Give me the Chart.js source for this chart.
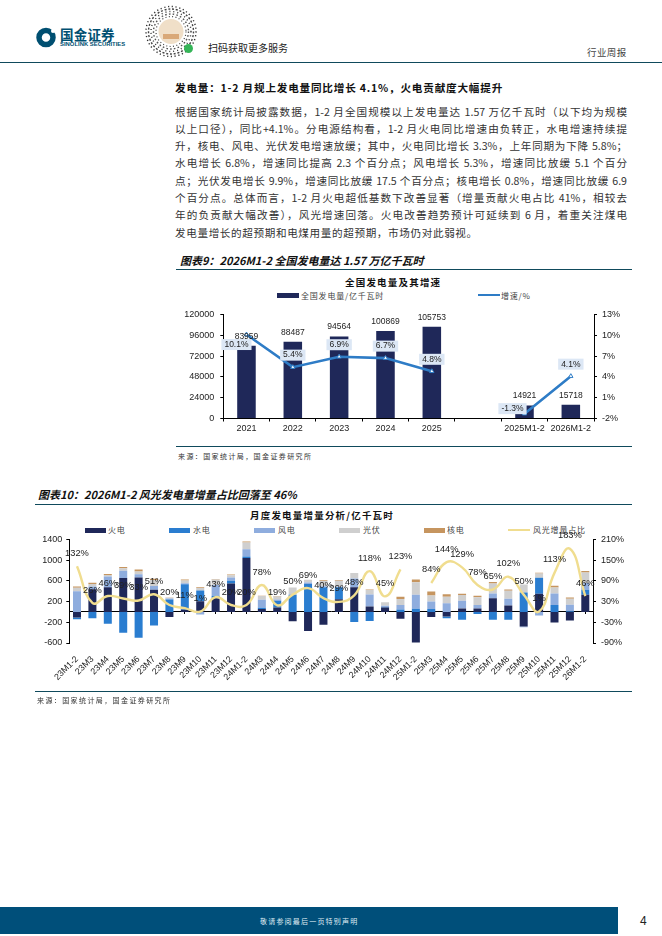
<!DOCTYPE html>
<html lang="zh-CN">
<head>
<meta charset="utf-8">
<title>行业周报</title>
<script src="https://cdn.jsdelivr.net/npm/chart.js@4"></script>
<style>
html, body { margin: 0; padding: 0; background: #fff; }
body { position: relative; width: 662px; height: 936px; overflow: hidden; font-family: "Noto Sans CJK SC", sans-serif; color: #222; }
.abs { position: absolute; white-space: nowrap; }
.rule { position: absolute; height: 1.4px; background: #0f4a5c; }
.line { position: absolute; left: 175px; width: 452px; font-size: 10.6px; line-height: 14px; text-align: justify; text-align-last: justify; color: #333; white-space: nowrap; }
.fig { font-size: 11px; font-weight: 700; font-style: italic; color: #111; }
.source { font-size: 7px; color: #333; letter-spacing: 1.4px; }
.ctitle { font-size: 9.5px; font-weight: 700; color: #111; letter-spacing: 1.2px; }
.key { position: absolute; font-size: 8px; line-height: 10px; white-space: nowrap; color: #444; letter-spacing: 0.8px; }
.swatch { position: absolute; height: 5px; }
canvas { position: absolute; }
</style>
</head>
<body>

<svg class="abs" style="left:36px;top:27px" width="20" height="21" viewBox="0 0 20 21">
  <circle cx="10" cy="10.5" r="7" fill="none" stroke="#004f71" stroke-width="5.5"/>
  <circle cx="17" cy="4" r="2" fill="#fff"/>
</svg>
<div class="abs" style="left:60px;top:26px;font-size:13.5px;line-height:17px;font-weight:700;color:#004f71;letter-spacing:0.2px">国金证券</div>
<div class="abs" style="left:60px;top:41px;font-family:'Liberation Sans';font-size:5.9px;line-height:7px;font-weight:700;color:#004f71">SINOLINK SECURITIES</div>

<svg class="abs" style="left:145px;top:5px" width="54" height="54" viewBox="0 0 54 54">
  <circle cx="26" cy="26.500" r="25" fill="none" stroke="#333" stroke-width="1.4" stroke-dasharray="1.2 2.6"/>
  <circle cx="26" cy="26.500" r="22.500" fill="none" stroke="#444" stroke-width="1.4" stroke-dasharray="2 1.8"/>
  <circle cx="26" cy="26.500" r="20" fill="none" stroke="#333" stroke-width="1.4" stroke-dasharray="1 3"/>
  <circle cx="26" cy="26.500" r="17.500" fill="none" stroke="#555" stroke-width="1.4" stroke-dasharray="1.6 2.2"/>
  <circle cx="26" cy="26.500" r="15" fill="none" stroke="#444" stroke-width="1.2" stroke-dasharray="1 2.4"/>
  <circle cx="26" cy="26.500" r="12.500" fill="#f0dfc8"/>
  <rect x="18" y="29" width="16" height="5" fill="#d9a878"/>
  <circle cx="43.500" cy="43.500" r="4.500" fill="#35b558"/>
</svg>
<div class="abs" style="left:208px;top:41px;font-size:10px;line-height:14px;color:#222">扫码获取更多服务</div>
<div class="abs" style="left:587px;top:46px;font-size:9.500px;line-height:13px;color:#444;letter-spacing:0.4px">行业周报</div>
<div class="rule" style="left:0;top:61.500px;width:662px"></div>

<div class="abs" style="left:175px;top:81px;font-size:10.600px;line-height:14px;font-weight:700;color:#111;letter-spacing:0.8px">发电量：1-2 月规上发电量同比增长 4.1%，火电贡献度大幅提升</div>
<div class="line" style="top:105px">根据国家统计局披露数据，1-2 月全国规模以上发电量达 1.57 万亿千瓦时（以下均为规模</div>
<div class="line" style="top:122px">以上口径），同比+4.1%。分电源结构看，1-2 月火电同比增速由负转正，水电增速持续提</div>
<div class="line" style="top:139px">升，核电、风电、光伏发电增速放缓；其中，火电同比增长 3.3%，上年同期为下降 5.8%；</div>
<div class="line" style="top:156px">水电增长 6.8%，增速同比提高 2.3 个百分点；风电增长 5.3%，增速同比放缓 5.1 个百分</div>
<div class="line" style="top:173.500px">点；光伏发电增长 9.9%，增速同比放缓 17.5 个百分点；核电增长 0.8%，增速同比放缓 6.9</div>
<div class="line" style="top:190.500px">个百分点。总体而言，1-2 月火电超低基数下改善显著（增量贡献火电占比 41%，相较去</div>
<div class="line" style="top:208px">年的负贡献大幅改善），风光增速回落。火电改善趋势预计可延续到 6 月，着重关注煤电</div>
<div class="abs" style="left:175px;top:225.500px;font-size:10.600px;line-height:14px;color:#333;letter-spacing:0.62px">发电量增长的超预期和电煤用量的超预期，市场仍对此弱视。</div>

<div class="abs fig" style="left:180px;top:252px;line-height:16px">图表9：2026M1-2 全国发电量达 1.57 万亿千瓦时</div>
<div class="rule" style="left:176px;top:269px;width:456px"></div>
<div class="abs ctitle" style="left:345px;top:275px;line-height:14px">全国发电量及其增速</div>
<div class="swatch" style="left:277px;top:293px;width:22px;background:#1f2859"></div>
<div class="key" style="left:301px;top:290.500px">全国发电量/亿千瓦时</div>
<div class="swatch" style="left:478px;top:294px;width:22px;height:2.400px;background:#2e7cc6"></div>
<div class="key" style="left:501px;top:290.500px">增速/%</div>
<canvas id="annualChart"></canvas>
<div class="rule" style="left:176px;top:446px;width:456px"></div>
<div class="abs source" style="left:178px;top:451px;line-height:10px">来源：国家统计局，国金证券研究所</div>

<div class="abs fig" style="left:38px;top:486px;line-height:16px">图表10：2026M1-2 风光发电量增量占比回落至 46%</div>
<div class="rule" style="left:35px;top:504px;width:597px"></div>
<div class="abs ctitle" style="left:250px;top:508px;line-height:14px">月度发电量增量分析/亿千瓦时</div>
<div class="swatch" style="left:85px;top:527.500px;width:21px;background:#1f2859"></div>
<div class="key" style="left:108px;top:525px">火电</div>
<div class="swatch" style="left:169px;top:527.500px;width:21px;background:#2a7dd0"></div>
<div class="key" style="left:193px;top:525px">水电</div>
<div class="swatch" style="left:254px;top:527.500px;width:21px;background:#8fadde"></div>
<div class="key" style="left:278px;top:525px">风电</div>
<div class="swatch" style="left:339px;top:527.500px;width:21px;background:#cfcfcf"></div>
<div class="key" style="left:363px;top:525px">光伏</div>
<div class="swatch" style="left:424px;top:527.500px;width:21px;background:#c6955f"></div>
<div class="key" style="left:447px;top:525px">核电</div>
<div class="swatch" style="left:508px;top:529px;width:22px;height:2.400px;background:#f0dd8f"></div>
<div class="key" style="left:533px;top:525px">风光增量占比</div>
<canvas id="monthlyChart"></canvas>
<div class="rule" style="left:35px;top:691px;width:597px"></div>
<div class="abs source" style="left:37px;top:695px;line-height:10px">来源：国家统计局，国金证券研究所</div>

<div class="abs" style="left:0;top:907px;width:618px;height:27px;background:#004f7a"></div>
<div class="abs" style="left:260px;top:916px;font-size:7px;line-height:10px;color:#dfeaf2;letter-spacing:1.2px">敬请参阅最后一页特别声明</div>
<div class="abs" style="left:640px;top:913px;font-family:'Liberation Sans';font-size:12px;line-height:16px;color:#222">4</div>

<script>
// 图表9 全国发电量及其增速
const annualCategories = ['2021', '2022', '2023', '2024', '2025', '', '2025M1-2', '2026M1-2'];
const annualGeneration = [83959, 88487, 94564, 100869, 105753, null, 14921, 15718];
const annualGrowth = [10.1, 5.4, 6.9, 6.7, 4.8, null, -1.3, 4.1];
const annualLeftTicks = [0, 24000, 48000, 72000, 96000, 120000];
const annualRightTicks = [-2, 1, 4, 7, 10, 13];

// 图表10 月度发电量增量
const monthlyCategories = [
    '23M1-2', '23M3', '23M4', '23M5', '23M6', '23M7', '23M8', '23M9', '23M10', '23M11', '23M12',
    '24M1-2', '24M3', '24M4', '24M5', '24M6', '24M7', '24M8', '24M9', '24M10', '24M11', '24M12',
    '25M1-2', '25M3', '25M4', '25M5', '25M6', '25M7', '25M8', '25M9', '25M10', '25M11', '25M12',
    '26M1-2'
];
const thermalPower = [
    -110, 440, 475, 655, 665, 430, -100, 40, 205, 265, 550,
    1040, 55, 85, -180, -370, -250, 245, 475, 105, 85, -130,
    -590, -100, -90, 65, 65, 265, 125, -280, 350, -205, -165,
    330
];
const hydroPower = [
    -30, -120, -230, -400, -500, -260, 240, 495, 210, 45, 50,
    30, 25, 130, 325, 540, 475, 230, -195, -175, 10, 45,
    60, 55, -30, -150, -40, -150, -150, 375, 310, 135, 15,
    100
];
const windPower = [
    400, 50, 210, 140, 60, 70, 20, 20, -50, 210, 65,
    140, 155, 25, 15, 30, 20, 10, 170, 230, 25, 90,
    270, 145, 165, 150, 70, 90, 130, -15, -70, 220, 125,
    130
];
const solarPower = [
    65, 50, 30, 50, 55, 115, 15, 50, 45, 105, 45,
    130, 70, 60, 130, 50, 100, 115, 105, 90, 65, 115,
    245, 115, 130, 110, 150, 195, 155, 155, 80, 115, 115,
    200
];
const nuclearPower = [
    25, 25, 15, 20, 40, 25, 5, 20, 15, 10, 10,
    20, 5, 5, 0, 0, 15, 15, 0, 10, 0, 45,
    50, 80, 45, 25, 25, 30, 25, 0, 15, 35, 25,
    30
];
const windSolarShare = [
    132, 26, 46, 39, 33, 51, 20, 11, 1, 43, 20,
    20, 78, 19, 50, 69, 40, 29, 48, 118, 45, 123,
    null, 84, 144, 129, 78, 65, 102, 50, 1, 113, 183,
    46
];
const monthlyLeftTicks = [-600, -200, 200, 600, 1000, 1400];
const monthlyRightTicks = [-90, -30, 30, 90, 150, 210];

const TICK_FONT = 'Liberation Sans';
const TEXT_COLOR = '#222';

// 没有 datalabels 插件，这里自己画数据标签
const valueLabels = {
    id: 'valueLabels',
    afterDatasetsDraw(chart, args, options) {
        const ctx = chart.ctx;
        options.sets.forEach(set => {
            const values = chart.data.datasets[set.dataset].data;
            chart.getDatasetMeta(set.dataset).data.forEach((el, i) => {
                if (values[i] === null) return;
                const shift = (set.shifts && set.shifts[i]) || [0, 0];
                const x = el.x + shift[0];
                const y = el.y - set.offset + shift[1];
                const text = values[i] + (set.suffix || '');
                ctx.save();
                ctx.font = `${set.size}px "${TICK_FONT}"`;
                ctx.textAlign = 'center';
                ctx.textBaseline = 'middle';
                if (set.background) {
                    const w = ctx.measureText(text).width + 6;
                    ctx.fillStyle = set.background;
                    ctx.fillRect(x - w / 2, y - 5.5, w, 11);
                }
                ctx.fillStyle = TEXT_COLOR;
                ctx.fillText(text, x, y);
                ctx.restore();
            });
        });
    }
};

function placeCanvas(id, left, top, width, height) {
    const canvas = document.getElementById(id);
    canvas.style.left = left + 'px';
    canvas.style.top = top + 'px';
    canvas.style.width = width + 'px';
    canvas.style.height = height + 'px';
    canvas.width = width;
    canvas.height = height;
    return canvas;
}

function valueAxis(position, ticks, axisWidth, size, suffix, padding) {
    return {
        position,
        min: ticks[0],
        max: ticks[ticks.length - 1],
        afterBuildTicks: scale => { scale.ticks = ticks.map(value => ({ value })); },
        afterFit: scale => { scale.width = axisWidth; },
        border: { color: '#000', width: 1 },
        grid: { drawOnChartArea: false, color: '#000', tickLength: 3 },
        ticks: {
            padding,
            color: TEXT_COLOR,
            font: { family: TICK_FONT, size },
            callback: value => value + suffix
        }
    };
}

function initAnnualChart() {
    new Chart(placeCanvas('annualChart', 176, 303, 456, 142), {
        data: {
            labels: annualCategories,
            datasets: [
                {
                    type: 'bar',
                    label: '全国发电量/亿千瓦时',
                    data: annualGeneration,
                    backgroundColor: '#1f2859',
                    barPercentage: 0.4,
                    categoryPercentage: 1,
                    yAxisID: 'y',
                    order: 2
                },
                {
                    type: 'line',
                    label: '增速/%',
                    data: annualGrowth,
                    borderColor: '#2e7cc6',
                    borderWidth: 2.6,
                    pointStyle: 'triangle',
                    pointRadius: 2.5,
                    pointBorderWidth: 1,
                    pointBackgroundColor: '#fff',
                    pointBorderColor: '#2e7cc6',
                    spanGaps: false,
                    tension: 0,
                    yAxisID: 'y2',
                    order: 1
                }
            ]
        },
        options: {
            responsive: false,
            animation: false,
            devicePixelRatio: 1,
            layout: { padding: { top: 10 } },
            scales: {
                x: {
                    afterFit: scale => { scale.height = 26.5; },
                    border: { color: '#000', width: 1 },
                    grid: { drawOnChartArea: false, color: '#000', tickLength: 3 },
                    ticks: {
                        padding: 2,
                        maxRotation: 0,
                        autoSkip: false,
                        color: TEXT_COLOR,
                        font: { family: TICK_FONT, size: 9 }
                    }
                },
                y: valueAxis('left', annualLeftTicks, 47.3, 9, '', 6),
                y2: valueAxis('right', annualRightTicks, 38, 9, '%', 5)
            },
            plugins: {
                legend: { display: false },
                tooltip: { enabled: false },
                valueLabels: {
                    sets: [
                        { dataset: 0, offset: 9.5, size: 8.5 },
                        {
                            dataset: 1, offset: 12, size: 8.5, suffix: '%', background: '#dce7f5',
                            shifts: { 0: [-10, 22], 6: [-12, 7] }
                        }
                    ]
                }
            }
        },
        plugins: [valueLabels]
    });
}

function initMonthlyChart() {
    const barDefaults = {
        type: 'bar',
        barPercentage: 0.52,
        categoryPercentage: 1,
        yAxisID: 'y',
        order: 2
    };
    new Chart(placeCanvas('monthlyChart', 35, 529, 597, 163), {
        data: {
            labels: monthlyCategories,
            datasets: [
                { ...barDefaults, label: '火电', data: thermalPower, backgroundColor: '#1f2859' },
                { ...barDefaults, label: '水电', data: hydroPower, backgroundColor: '#2a7dd0' },
                { ...barDefaults, label: '风电', data: windPower, backgroundColor: '#8fadde' },
                { ...barDefaults, label: '光伏', data: solarPower, backgroundColor: '#cfcfcf' },
                { ...barDefaults, label: '核电', data: nuclearPower, backgroundColor: '#c6955f' },
                {
                    type: 'line',
                    label: '风光增量占比',
                    data: windSolarShare,
                    borderColor: '#f0dd8f',
                    borderWidth: 2.4,
                    pointRadius: 0,
                    spanGaps: false,
                    tension: 0.45,
                    yAxisID: 'y2',
                    order: 1
                }
            ]
        },
        options: {
            responsive: false,
            animation: false,
            devicePixelRatio: 1,
            layout: { padding: { top: 6 } },
            scales: {
                x: {
                    stacked: true,
                    afterFit: scale => { scale.height = 49; },
                    border: { display: false },
                    grid: { display: false },
                    ticks: {
                        padding: 3,
                        minRotation: 45,
                        maxRotation: 45,
                        autoSkip: false,
                        color: TEXT_COLOR,
                        font: { family: TICK_FONT, size: 8.8 }
                    }
                },
                // 零轴单独一条，刻度线跟着 0 走，标签留在底部
                zeroAxis: {
                    axis: 'x',
                    type: 'category',
                    labels: monthlyCategories,
                    offset: true,
                    position: { y: 0 },
                    border: { color: '#000', width: 1 },
                    grid: { drawOnChartArea: false, color: '#000', tickLength: 2 },
                    ticks: { display: false }
                },
                y: { ...valueAxis('left', monthlyLeftTicks, 34.3, 9, '', 4), stacked: true },
                y2: valueAxis('right', monthlyRightTicks, 39, 9, '%', 5)
            },
            plugins: {
                legend: { display: false },
                tooltip: { enabled: false },
                valueLabels: {
                    sets: [{ dataset: 5, offset: 13, size: 9.3, suffix: '%' }]
                }
            }
        },
        plugins: [valueLabels]
    });
}

initAnnualChart();
initMonthlyChart();
</script>
</body>
</html>
